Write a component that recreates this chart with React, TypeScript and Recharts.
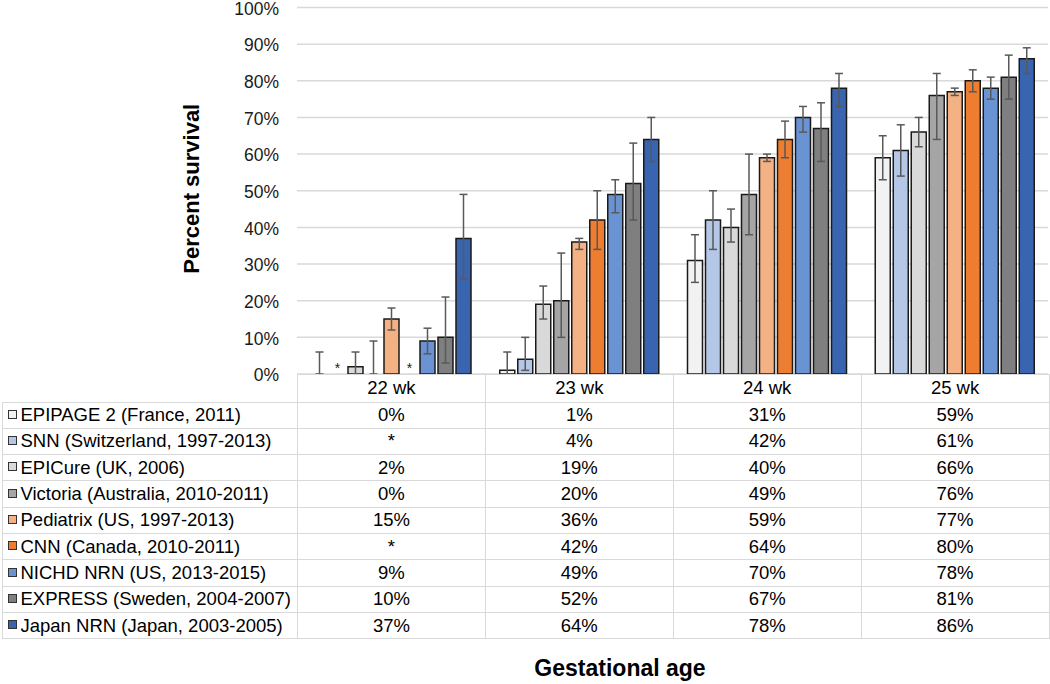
import { BarChart, Bar, XAxis, YAxis, CartesianGrid, ErrorBar, LabelList, Cell } from 'recharts';

const categories = ['22 wk', '23 wk', '24 wk', '25 wk'];
const yTicks = [0, 10, 20, 30, 40, 50, 60, 70, 80, 90, 100];

// survival per study (null = not reported, shown as *)
const epipage = [0, 1, 31, 59];
const snn = [null, 4, 42, 61];
const epicure = [2, 19, 40, 66];
const victoria = [0, 20, 49, 76];
const pediatrix = [15, 36, 59, 77];
const cnn = [null, 42, 64, 80];
const nichd = [9, 49, 70, 78];
const express = [10, 52, 67, 81];
const japan = [37, 64, 78, 86];

// confidence interval bounds
const epipageLow = [0, 0, 25, 53];
const epipageHigh = [6, 6, 38, 65];
const snnLow = [null, 1, 34, 54];
const snnHigh = [null, 10, 50, 68];
const epicureLow = [0, 15, 36, 62];
const epicureHigh = [6, 24, 45, 70];
const victoriaLow = [0, 10, 38, 64];
const victoriaHigh = [9, 33, 60, 82];
const pediatrixLow = [12, 34, 58, 76];
const pediatrixHigh = [18, 37, 60, 78];
const cnnLow = [null, 34, 59, 77];
const cnnHigh = [null, 50, 69, 83];
const nichdLow = [5.5, 44, 66, 75];
const nichdHigh = [12.5, 53, 73, 81];
const expressLow = [3, 42, 58, 75];
const expressHigh = [21, 63, 74, 87];
const japanLow = [26, 58, 73, 82];
const japanHigh = [49, 70, 82, 89];

type Study = {
  key: string;
  name: string;
  color: string;
  values: (number | null)[];
  low: (number | null)[];
  high: (number | null)[];
};

const studies: Study[] = [
  { key: 'epipage', name: 'EPIPAGE 2 (France, 2011)', color: '#F2F2F2', values: epipage, low: epipageLow, high: epipageHigh },
  { key: 'snn', name: 'SNN (Switzerland, 1997-2013)', color: '#B4C7E7', values: snn, low: snnLow, high: snnHigh },
  { key: 'epicure', name: 'EPICure (UK, 2006)', color: '#D9D9D9', values: epicure, low: epicureLow, high: epicureHigh },
  { key: 'victoria', name: 'Victoria (Australia, 2010-2011)', color: '#A5A5A5', values: victoria, low: victoriaLow, high: victoriaHigh },
  { key: 'pediatrix', name: 'Pediatrix (US, 1997-2013)', color: '#F4B183', values: pediatrix, low: pediatrixLow, high: pediatrixHigh },
  { key: 'cnn', name: 'CNN (Canada, 2010-2011)', color: '#ED7D31', values: cnn, low: cnnLow, high: cnnHigh },
  { key: 'nichd', name: 'NICHD NRN (US, 2013-2015)', color: '#6A93D4', values: nichd, low: nichdLow, high: nichdHigh },
  { key: 'express', name: 'EXPRESS (Sweden, 2004-2007)', color: '#7F7F7F', values: express, low: expressLow, high: expressHigh },
  { key: 'japan', name: 'Japan NRN (Japan, 2003-2005)', color: '#3864B0', values: japan, low: japanLow, high: japanHigh },
];

const chartData = categories.map((category, i) => {
  const row: Record<string, any> = { category };
  studies.forEach((s) => {
    const v = s.values[i];
    const lo = s.low[i];
    const hi = s.high[i];
    row[s.key] = v ?? 0;
    row[`${s.key}Err`] = v === null || lo === null || hi === null ? null : [v - lo, hi - v];
    if (v === null) row[`${s.key}Star`] = '*';
  });
  return row;
});

const FONT = 'Arial, "Liberation Sans", sans-serif';
const GRID = '#D9D9D9';
const cellBorder = `1.5px solid ${GRID}`;

export default function App() {
  return (
    <div style={{ position: 'absolute', left: 0, top: 0, width: 1050, height: 684, background: '#fff', fontFamily: FONT, color: '#000' }}>
      <BarChart
        width={1050}
        height={392}
        data={chartData}
        margin={{ top: 7.5, right: 2, bottom: 18, left: 237 }}
        barCategoryGap={15}
        barGap={3}
        style={{ overflow: 'visible' }}
      >
        <CartesianGrid vertical={false} stroke={GRID} strokeWidth={1.5} />
        <XAxis dataKey="category" hide />
        <YAxis
          width={60}
          domain={[0, 100]}
          ticks={yTicks}
          interval={0}
          tickFormatter={(v) => `${v}%`}
          axisLine={false}
          tickLine={false}
          tickMargin={12}
          tick={{ fill: '#1a1a1a', fontSize: 17.5, fontFamily: FONT, dy: 1 }}
          label={{
            value: 'Percent survival',
            angle: -90,
            position: 'insideLeft',
            offset: 0,
            dx: -46,
            dy: -2,
            style: { textAnchor: 'middle', fontWeight: 'bold', fontSize: 22, fill: '#000', fontFamily: FONT },
          }}
        />
        {studies.map((s) => (
          <Bar
            key={s.key}
            dataKey={s.key}
            name={s.name}
            fill={s.color}
            stroke="#1a1a1a"
            strokeWidth={1.5}
            minPointSize={(value: any) => (value === 0 ? 0.01 : 0)}
            isAnimationActive={false}
          >
            {s.values.map((v, i) => (
              <Cell key={i} fill={v ? s.color : 'none'} stroke={v ? '#1a1a1a' : 'none'} />
            ))}
            <ErrorBar dataKey={`${s.key}Err`} width={4} stroke="#595959" strokeWidth={1.5} direction="y" />
            {s.values.includes(null) && (
              <LabelList dataKey={`${s.key}Star`} position="top" offset={1} fill="#222" fontSize={14} fontFamily={FONT} />
            )}
          </Bar>
        ))}
      </BarChart>

      <table
        style={{
          position: 'absolute',
          left: 1.5,
          top: 373.5,
          width: 1047,
          borderCollapse: 'collapse',
          tableLayout: 'fixed',
          fontSize: 18.5,
          fontFamily: FONT,
        }}
      >
        <colgroup>
          <col style={{ width: 295.5 }} />
          {categories.map((c) => (
            <col key={c} style={{ width: 187.875 }} />
          ))}
        </colgroup>
        <thead>
          <tr style={{ height: 28 }}>
            <th style={{ padding: 0 }} />
            {categories.map((c) => (
              <th key={c} style={{ border: cellBorder, fontWeight: 'normal', padding: 0, textAlign: 'center', background: '#fff' }}>
                {c}
              </th>
            ))}
          </tr>
        </thead>
        <tbody style={{ background: '#fff' }}>
          {studies.map((s) => (
            <tr key={s.key} style={{ height: 26.3 }}>
              <td style={{ border: cellBorder, padding: '0 0 0 5px', whiteSpace: 'nowrap' }}>
                <span
                  style={{
                    display: 'inline-block',
                    width: 7,
                    height: 7,
                    background: s.color,
                    border: '1.5px solid #333',
                    marginRight: 4,
                    verticalAlign: 'middle',
                    position: 'relative',
                    top: -2,
                  }}
                />
                {s.name}
              </td>
              {s.values.map((v, i) => (
                <td key={i} style={{ border: cellBorder, padding: 0, textAlign: 'center' }}>
                  {v === null ? '*' : `${v}%`}
                </td>
              ))}
            </tr>
          ))}
        </tbody>
      </table>

      <div
        style={{
          position: 'absolute',
          left: 420,
          width: 400,
          top: 655,
          textAlign: 'center',
          fontWeight: 'bold',
          fontSize: 23,
          fontFamily: FONT,
        }}
      >
        Gestational age
      </div>
    </div>
  );
}
